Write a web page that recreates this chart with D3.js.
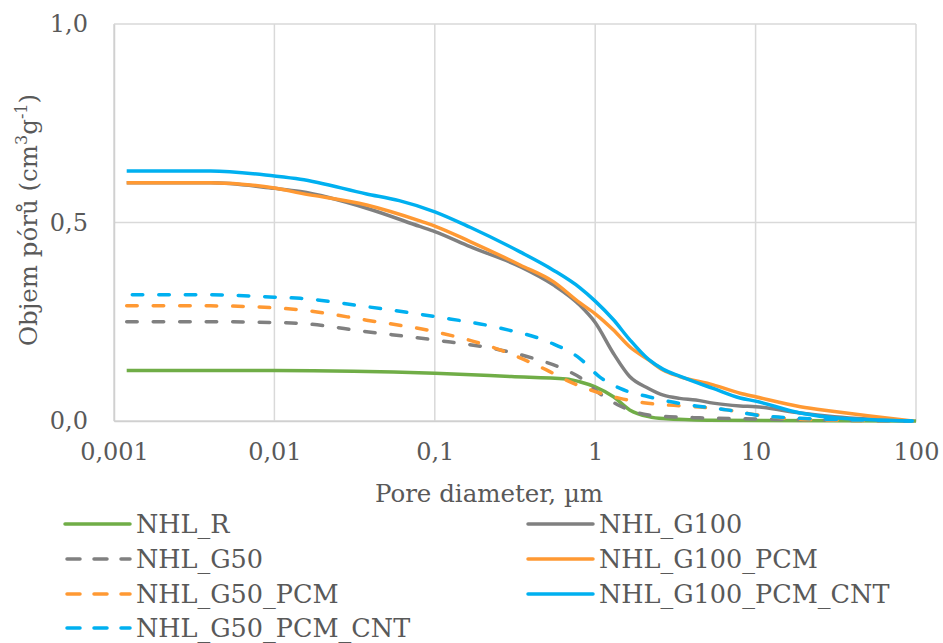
<!DOCTYPE html>
<html>
<head>
<meta charset="utf-8">
<script src="https://cdn.jsdelivr.net/npm/d3@7"></script>
<style>
  body { margin: 0; background: #fff; }
  svg text { fill: #595959; }
</style>
</head>
<body>
<svg id="chart" width="943" height="643"></svg>
<script>
// pore diameter (µm) / cumulative pore volume (cm3/g)
var dR = [0.0012, 0.01, 0.1, 0.3, 0.66, 0.8, 1, 1.3, 1.64, 2.15, 2.66, 5, 100];
var vR = [0.127, 0.127, 0.12, 0.112, 0.106, 0.099, 0.086, 0.061, 0.028, 0.011, 0.006, 0.002, 0];

var dG100 = [0.0012, 0.004, 0.01, 0.0145, 0.0376, 0.0807, 0.1, 0.166, 0.34, 0.548, 0.8, 1, 1.3, 1.64, 2.15, 2.66, 3.36, 4.24, 5.44, 8, 10, 19, 31, 95];
var vG100 = [0.6, 0.6, 0.586, 0.578, 0.536, 0.49, 0.477, 0.439, 0.389, 0.343, 0.292, 0.248, 0.17, 0.112, 0.082, 0.065, 0.057, 0.053, 0.045, 0.038, 0.036, 0.02, 0.011, 0];

var dG50 = [0.0012, 0.004, 0.01, 0.0145, 0.0376, 0.1, 0.255, 0.41, 0.66, 0.8, 1.06, 1.43, 2.15, 2.9, 4.5, 10, 30, 95];
var vG50 = [0.25, 0.25, 0.248, 0.246, 0.225, 0.204, 0.179, 0.158, 0.128, 0.11, 0.07, 0.038, 0.015, 0.011, 0.008, 0.005, 0.002, 0];

var dG100PCM = [0.0012, 0.004, 0.01, 0.0145, 0.0376, 0.0807, 0.1, 0.166, 0.34, 0.548, 0.8, 1, 1.3, 1.64, 2.15, 2.66, 3.36, 5.44, 8, 10, 19, 31, 50, 95];
var vG100PCM = [0.6, 0.6, 0.587, 0.574, 0.544, 0.504, 0.491, 0.452, 0.393, 0.351, 0.298, 0.27, 0.229, 0.187, 0.154, 0.128, 0.112, 0.091, 0.07, 0.061, 0.036, 0.024, 0.013, 0];

var dG50PCM = [0.0012, 0.004, 0.01, 0.0145, 0.0376, 0.1, 0.255, 0.5, 0.66, 0.97, 1.43, 2, 2.9, 4.5, 6.6, 10, 20, 95];
var vG50PCM = [0.29, 0.29, 0.285, 0.28, 0.254, 0.225, 0.179, 0.128, 0.103, 0.076, 0.057, 0.046, 0.04, 0.035, 0.028, 0.016, 0.004, 0];

var dG100CNT = [0.0012, 0.004, 0.01, 0.0145, 0.0376, 0.06, 0.1, 0.166, 0.34, 0.548, 0.8, 1, 1.3, 1.64, 2.15, 2.66, 3.36, 5.44, 8, 10, 19, 31, 95];
var vG100CNT = [0.63, 0.63, 0.617, 0.609, 0.572, 0.555, 0.527, 0.488, 0.426, 0.38, 0.336, 0.302, 0.255, 0.205, 0.155, 0.13, 0.113, 0.082, 0.058, 0.05, 0.02, 0.008, 0];

var dG50CNT = [0.0013, 0.004, 0.01, 0.0145, 0.0376, 0.1, 0.255, 0.52, 0.8, 1.06, 1.43, 2.15, 2.9, 4.24, 6.6, 10, 19, 50, 95];
var vG50CNT = [0.318, 0.318, 0.312, 0.309, 0.288, 0.263, 0.234, 0.198, 0.158, 0.112, 0.082, 0.061, 0.049, 0.038, 0.028, 0.015, 0.007, 0.002, 0];

var seriesNames = ["NHL_R", "NHL_G100", "NHL_G50", "NHL_G100_PCM", "NHL_G50_PCM", "NHL_G100_PCM_CNT", "NHL_G50_PCM_CNT"];
var seriesColors = ["#70ad47", "#808080", "#808080", "#ff9933", "#ff9933", "#00b0f0", "#00b0f0"];
var seriesDashed = [false, false, true, false, true, false, true];
var seriesDiam = [dR, dG100, dG50, dG100PCM, dG50PCM, dG100CNT, dG50CNT];
var seriesVol = [vR, vG100, vG50, vG100PCM, vG50PCM, vG100CNT, vG50CNT];

var xTicks = [0.001, 0.01, 0.1, 1, 10, 100];
var xTickLabels = ["0,001", "0,01", "0,1", "1", "10", "100"];
var yTicks = [0, 0.5, 1];
var yTickLabels = ["0,0", "0,5", "1,0"];

var FONT = "'DejaVu Serif', serif";
var svg = d3.select("#chart");
var plotLeft = 114, plotRight = 916, plotTop = 24, plotBottom = 421;

var x = d3.scaleLog().domain([0.001, 100]).range([plotLeft, plotRight]);
var y = d3.scaleLinear().domain([0, 1]).range([plotBottom, plotTop]);

// grid
var grid = svg.append("g");
grid.selectAll("line.v").data(xTicks).enter().append("line")
    .attr("x1", function (d) { return x(d); }).attr("x2", function (d) { return x(d); })
    .attr("y1", plotTop).attr("y2", plotBottom)
    .attr("stroke", "#d9d9d9").attr("stroke-width", 1.5);
grid.selectAll("line.h").data(yTicks).enter().append("line")
    .attr("x1", plotLeft).attr("x2", plotRight)
    .attr("y1", function (d) { return y(d); }).attr("y2", function (d) { return y(d); })
    .attr("stroke", "#d9d9d9").attr("stroke-width", 1.5);

// axes
var xAxis = d3.axisBottom(x).tickValues(xTicks)
    .tickFormat(function (d, i) { return xTickLabels[i]; }).tickSize(0).tickPadding(22);
var gx = svg.append("g").attr("transform", "translate(0," + plotBottom + ")").call(xAxis)
    .attr("font-family", FONT).attr("font-size", 24);
gx.select(".domain").attr("stroke", "#d0d0d0").attr("stroke-width", 1.5);
gx.selectAll("text").attr("fill", "#595959");

var yAxis = d3.axisLeft(y).tickValues(yTicks)
    .tickFormat(function (d, i) { return yTickLabels[i]; }).tickSize(0).tickPadding(26);
var gy = svg.append("g").attr("transform", "translate(" + plotLeft + ",0)").call(yAxis)
    .attr("font-family", FONT).attr("font-size", 24);
gy.select(".domain").attr("stroke", "#d0d0d0").attr("stroke-width", 1.5);
gy.selectAll("text").attr("fill", "#595959");

// lines
var line = d3.line()
    .x(function (p) { return x(p[0]); })
    .y(function (p) { return y(p[1]); })
    .curve(d3.curveMonotoneX);

seriesNames.forEach(function (name, i) {
    var pts = d3.zip(seriesDiam[i], seriesVol[i]);
    svg.append("path")
        .attr("d", line(pts))
        .attr("fill", "none")
        .attr("stroke", seriesColors[i])
        .attr("stroke-width", 3.5)
        .attr("stroke-linecap", seriesDashed[i] ? "round" : "butt")
        .attr("stroke-dasharray", seriesDashed[i] ? "10.5,16" : null);
});

// axis titles
svg.append("text")
    .attr("x", 489).attr("y", 502)
    .attr("text-anchor", "middle")
    .style("font-family", FONT).style("font-size", "24.5px")
    .text("Pore diameter, µm");

var yt = svg.append("text")
    .attr("transform", "translate(37,220) rotate(-90)")
    .attr("text-anchor", "middle")
    .style("font-family", FONT).style("font-size", "24.5px");
yt.append("tspan").text("Objem pórů (cm");
yt.append("tspan").attr("dy", -10).style("font-size", "16px").text("3");
yt.append("tspan").attr("dy", 10).text("g");
yt.append("tspan").attr("dy", -10).style("font-size", "16px").text("-1");
yt.append("tspan").attr("dy", 10).text(")");

// legend
var legendCols = [65, 528];
var legendRows = [524, 559, 594, 628];
var legend = svg.append("g");
seriesNames.forEach(function (name, i) {
    var lx = legendCols[i % 2], ly = legendRows[Math.floor(i / 2)];
    legend.append("line")
        .attr("x1", lx + (seriesDashed[i] ? 2 : 0)).attr("x2", lx + 65)
        .attr("y1", ly).attr("y2", ly)
        .attr("stroke", seriesColors[i])
        .attr("stroke-width", 3.5)
        .attr("stroke-linecap", "round")
        .attr("stroke-dasharray", seriesDashed[i] ? "13,14" : null);
    legend.append("text")
        .attr("x", lx + 71).attr("y", ly + 9)
        .style("font-family", FONT).style("font-size", "25.5px")
        .text(name);
});
</script>
</body>
</html>
